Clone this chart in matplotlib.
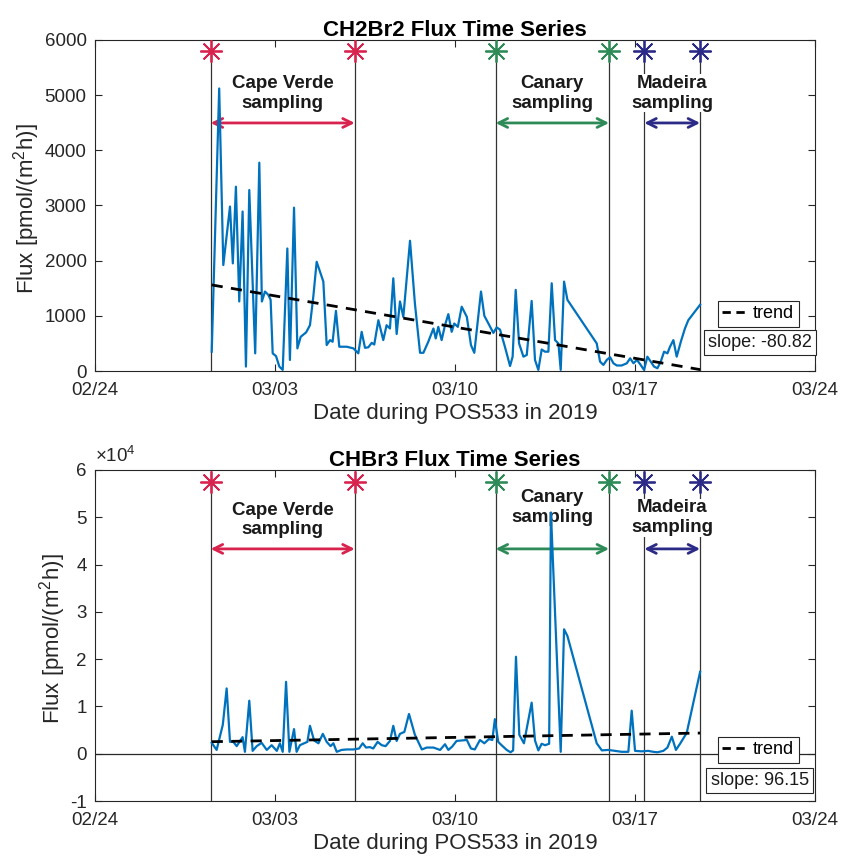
import numpy as np
import pandas as pd
import matplotlib
matplotlib.use("Agg")
import matplotlib.pyplot as plt
import matplotlib.dates as mdates
from matplotlib.lines import Line2D

plt.rcParams['font.family'] = ['Liberation Sans', 'DejaVu Sans']
plt.rcParams['mathtext.default'] = 'regular'

START = pd.Timestamp('2019-02-24')

# sample times (days after 02/24) and CH2Br2 flux
t_ch2br2 = [4.54, 4.83, 4.99, 5.25, 5.36, 5.48, 5.61, 5.74, 5.87, 6.00, 6.23, 6.39, 6.49, 6.61,
            6.74, 6.83, 6.91, 7.04, 7.17, 7.30, 7.48, 7.58, 7.74, 7.87, 8.00, 8.21, 8.36, 8.49,
            8.62, 8.88, 9.01, 9.14, 9.24, 9.37, 9.50, 9.79, 10.05, 10.24, 10.37, 10.50, 10.63,
            10.76, 10.86, 11.02, 11.21, 11.34, 11.47, 11.60, 11.73, 11.86, 11.99, 12.25, 12.44,
            12.64, 12.77, 12.96, 13.16, 13.25, 13.35, 13.48, 13.61, 13.74, 13.87, 13.97, 14.11,
            14.26, 14.46, 14.62, 14.75, 15.01, 15.14, 15.30, 15.49, 15.62, 15.75, 15.94, 16.14,
            16.24, 16.36, 16.49, 16.66, 16.79, 16.98, 17.11, 17.24, 17.37, 17.50, 17.63, 17.76,
            17.89, 18.02, 18.11, 18.24, 18.37, 19.51, 19.64, 19.77, 19.90, 20.03, 20.16, 20.29,
            20.48, 20.68, 20.81, 20.94, 21.07, 21.19, 21.35, 21.48, 21.61, 21.74, 21.87, 22.00,
            22.13, 22.26, 22.36, 22.49, 22.62, 22.78, 22.94, 23.07, 23.53]
f_ch2br2 = [350, 5120, 1920, 2980, 1950, 3340, 1260, 2890, 80, 3280, 320, 3775, 1260, 1440,
            1380, 1290, 320, 270, 80, 20, 2220, 200, 2960, 410, 620, 700, 830, 1350,
            1980, 1620, 470, 560, 530, 1090, 440, 440, 410, 320, 710, 420, 430,
            510, 480, 920, 560, 830, 770, 1680, 670, 1260, 980, 2360, 1225,
            330, 330, 530, 770, 590, 800, 560, 830, 1030, 710, 860, 800,
            1165, 980, 470, 330, 1440, 1000, 860, 690, 790, 750, 440, 90,
            260, 1470, 500, 260, 290, 1270, 200, 20, 390, 350, 350, 1590,
            560, 500, 20, 1620, 1290, 500, 170, 110, 200, 250, 140, 100,
            100, 140, 230, 140, 200, 130, 20, 260, 170, 80, 50, 170,
            350, 320, 440, 560, 260, 530, 770, 920, 1200]

# sample times and CHBr3 flux
t_chbr3 = [4.54, 4.73, 4.97, 5.12, 5.25, 5.38, 5.51, 5.74, 5.83, 6.00, 6.13, 6.29, 6.48, 6.68,
           6.87, 7.07, 7.19, 7.30, 7.43, 7.56, 7.74, 7.84, 7.97, 8.13, 8.26, 8.36, 8.52, 8.69,
           8.86, 9.01, 9.16, 9.27, 9.40, 9.59, 9.79, 10.05, 10.27, 10.41, 10.54, 10.69, 10.82,
           10.99, 11.15, 11.30, 11.47, 11.60, 11.73, 11.86, 12.03, 12.21, 12.44, 12.71, 12.90,
           13.16, 13.42, 13.61, 13.74, 13.89, 14.06, 14.26, 14.46, 14.62, 14.77, 14.97, 15.14,
           15.32, 15.45, 15.55, 15.68, 15.81, 16.01, 16.16, 16.26, 16.37, 16.50, 16.68, 16.98,
           17.11, 17.24, 17.37, 17.50, 17.66, 17.73, 18.11, 18.24, 18.37, 19.51, 19.71, 19.96,
           20.22, 20.48, 20.74, 20.87, 21.00, 21.26, 21.51, 21.71, 21.87, 22.10, 22.26, 22.43,
           22.59, 22.75, 23.01, 23.53]
f_chbr3 = [2300, 800, 6100, 13800, 2500, 2500, 1600, 3500, 400, 11200, 600, 1600, 2300, 800,
           1800, 600, 2200, 400, 15200, 400, 5200, 400, 1800, 2200, 2500, 5900, 2800, 2200,
           4200, 2500, 1600, 2200, 400, 800, 900, 900, 1100, 2200, 1300, 1400, 1100,
           2500, 1800, 1600, 2700, 5900, 2700, 4200, 4600, 8400, 4000, 900, 1300,
           1300, 800, 2000, 800, 1500, 2700, 2800, 2900, 1100, 900, 2900, 2200,
           3100, 2900, 7300, 2500, 1800, 800, 300, 700, 20500, 4000, 2200, 10800,
           2800, 700, 2100, 1800, 2100, 51000, 400, 26300, 24900, 2200, 700, 800,
           600, 400, 400, 9100, 600, 500, 600, 400, 300, 600, 1300, 3600,
           800, 2100, 4400, 17300]

# sampling periods (days after 02/24)
sites = ['Cape Verde', 'Canary', 'Madeira']
site_start = [4.50, 15.58, 21.36]
site_end = [10.10, 19.99, 23.53]
site_colors = ['#D8234E', '#2E8B57', '#2B2A86']

slope_ch2br2 = -80.82
slope_chbr3 = 96.15
trend0_ch2br2 = 1560
trend0_chbr3 = 2540

xticks_days = [0, 7, 14, 21, 28]


def to_num(days):
    return mdates.date2num(START) + np.asarray(days, dtype=float)


def style_axes(ax, ylabel_x):
    for s in ax.spines.values():
        s.set_color('#262626')
        s.set_linewidth(0.8)
    ax.tick_params(direction='in', length=5, width=0.8, top=True, right=True,
                   labelsize=13.5, colors='#262626', pad=6)
    ax.tick_params(axis='x', pad=8)
    ax.set_xlim(to_num(0), to_num(28))
    ax.set_xticks(to_num(xticks_days))
    ax.xaxis.set_major_formatter(mdates.DateFormatter('%m/%d'))
    ax.set_xlabel('Date during POS533 in 2019', fontsize=16, color='#262626', labelpad=3)
    ax.set_ylabel('Flux [pmol/(m$^2$h)]', fontsize=16, color='#262626')
    # label anchor is its right edge
    ax.yaxis.set_label_coords(ylabel_x, 0.49)


def draw_panel(ax, t, f, slope, trend0, ymin, star_y, arrow_y, text_y, legend_y, slope_y):
    # sampling period markers
    for i in range(3):
        for d in (site_start[i], site_end[i]):
            ax.vlines(to_num(d), ymin, star_y, color='#333333', lw=0.9, zorder=1)
            ax.plot(to_num(d), star_y, marker=(8, 2, 0), ms=16, mew=1.3,
                    color=site_colors[i], zorder=6, clip_on=False)
        ax.annotate('', xy=(to_num(site_end[i]), arrow_y), xytext=(to_num(site_start[i]), arrow_y),
                    arrowprops=dict(arrowstyle='<->', color=site_colors[i], lw=2,
                                    mutation_scale=16, shrinkA=0, shrinkB=0), zorder=2)
        mid = (site_start[i] + site_end[i]) / 2
        ax.text(to_num(mid), text_y[i], sites[i] + '\nsampling', ha='center', va='center',
                fontsize=13.5, fontweight='bold', color='#1a1a1a', linespacing=1.2, zorder=2,
                bbox=dict(facecolor='white', edgecolor='none', pad=0.5))

    ax.plot(to_num(t), f, color='#0072BD', lw=1.6, zorder=3)

    t_tr = np.array([t[0], t[-1]])
    trend = trend0 + slope * (t_tr - t[0])
    ax.plot(to_num(t_tr), trend, color='black', ls=(0, (4, 3)), lw=2, zorder=4)

    leg = ax.legend([Line2D([], [], color='black', ls=(0, (3, 2)), lw=2)], ['trend'],
                    loc='lower left', bbox_to_anchor=(0.865, legend_y), fontsize=13,
                    handlelength=1.5, handletextpad=0.2, borderpad=0.25, borderaxespad=0,
                    fancybox=False, framealpha=1, edgecolor='#262626')
    leg.get_frame().set_linewidth(0.8)
    leg.set_zorder(7)
    ax.text(0.923, slope_y, 'slope: %.2f' % slope, transform=ax.transAxes, ha='center',
            va='center', fontsize=13, color='#1a1a1a', zorder=7,
            bbox=dict(facecolor='white', edgecolor='#262626', lw=0.8, pad=3))


fig = plt.figure(figsize=(8.42, 8.6), dpi=100)

ax1 = fig.add_axes([0.1128, 0.5686, 0.8552, 0.385])
draw_panel(ax1, t_ch2br2, f_ch2br2, slope_ch2br2, trend0_ch2br2, 0, 5790, 4495,
           [5030, 5030, 5030], 0.133, 0.086)
ax1.set_ylim(0, 6000)
ax1.set_yticks(range(0, 6001, 1000))
style_axes(ax1, -0.074)
ax1.set_title('CH2Br2 Flux Time Series', fontsize=16, fontweight='bold', pad=3)

ax2 = fig.add_axes([0.1128, 0.0686, 0.8552, 0.385])
ax2.axhline(0, color='#262626', lw=0.9, zorder=1)
draw_panel(ax2, t_chbr3, f_chbr3, slope_chbr3, trend0_chbr3, -10000, 57500, 43300,
           [49400, 52000, 49900], 0.115, 0.062)
ax2.set_ylim(-10000, 60000)
ax2.set_yticks(range(-10000, 60001, 10000))
ax2.set_yticklabels([str(v // 10000) for v in range(-10000, 60001, 10000)])
style_axes(ax2, -0.038)
ax2.set_title('CHBr3 Flux Time Series', fontsize=16, fontweight='bold', pad=3)
ax2.text(0.0, 1.012, r'$\times 10^4$', transform=ax2.transAxes, fontsize=13.5,
         color='#262626', ha='left', va='bottom')

fig.savefig('out.png', dpi=100)
